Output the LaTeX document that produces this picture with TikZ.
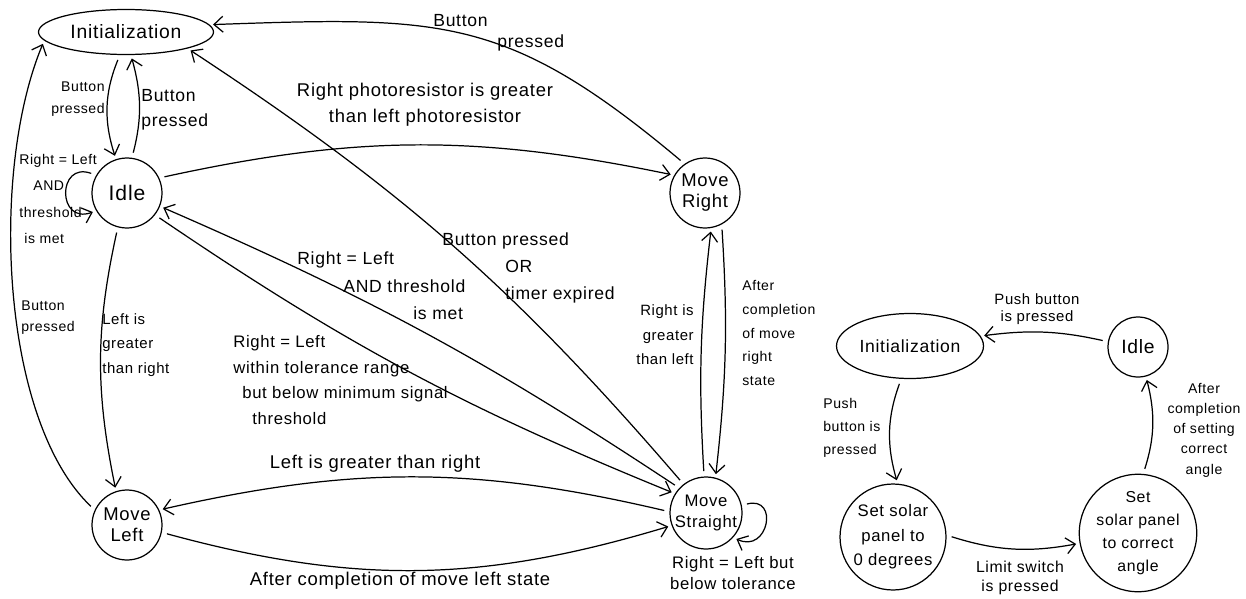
\documentclass[tikz,border=0pt]{standalone}
\usepackage{fontspec}
\setmainfont{Liberation Sans}[LetterSpace=4]
\usepackage{tikz}
\usetikzlibrary{arrows.meta,shapes.geometric}

\tikzset{
  state/.style={circle, draw, line width=0.7pt, inner sep=0pt, align=center,
                font=\fontsize{10.5}{12}\selectfont},
  startst/.style={ellipse, draw, line width=0.7pt, inner sep=0pt,
                  font=\fontsize{11}{13}\selectfont},
  trans/.style={->, line width=0.7pt, shorten <=3pt, shorten >=2pt},
  lbl/.style={inner sep=0pt, align=left, font=\fontsize{10}{14.5}\selectfont},
  lblsm/.style={inner sep=0pt, align=left, font=\fontsize{8}{13}\selectfont}
}

\begin{document}
\begin{tikzpicture}[x=0.02cm, y=-0.02cm,
  >={Straight Barb[length=1.8mm,width=3.2mm]}]
  \useasboundingbox (0,0) rectangle (1246,598);

  % tracker states
  \node[startst, minimum width=3.5cm, minimum height=0.9cm] (init) at (126,32) {Initialization};
  \node[state, minimum size=1.4cm, font=\fontsize{12}{14}\selectfont] (idle) at (127,193) {Idle};
  \node[state, minimum size=1.4cm] (mright) at (705,193) {Move\\Right};
  \node[state, minimum size=1.4cm] (mleft) at (127,525) {Move\\Left};
  \node[state, minimum size=1.44cm, font=\fontsize{9.5}{12}\selectfont] (mstraight) at (706,513) {Move\\Straight};

  % panel states
  \node[startst, minimum width=2.94cm, minimum height=1.3cm, font=\fontsize{10}{12}\selectfont] (init2) at (910,346) {Initialization};
  \node[state, minimum size=1.2cm, font=\fontsize{11}{13}\selectfont] (idle2) at (1138,347) {Idle};
  \node[state, minimum size=2.12cm, font=\fontsize{9.5}{14}\selectfont] (setzero) at (893,537) {Set solar\\panel to\\0 degrees};
  \node[state, minimum size=2.12cm, font=\fontsize{9}{13}\selectfont] (setangle) at (1138,533) {Set\\solar panel\\to correct\\angle};

  % tracker transitions
  \draw[trans] (init.255) to[bend right=20] (idle.108);
  \draw[trans] (idle.82) to[bend right=15] (init.282);
  \draw[trans] (idle.150) to[out=160, in=200, looseness=3] (idle.210);
  \draw[trans] (mleft.155) .. controls (0,420) and (-10,170) .. (init.186);
  \draw[trans] (idle.255) to[bend right=12] (mleft.108);
  \draw[trans] (idle.25) to[bend left=12] (mright.150);
  \draw[trans] (mright.125) to[out=140, in=2, looseness=1.2] (init.5);
  \draw[trans] (mstraight.128) to[bend right=8] (init.-15);
  \draw[trans] (mstraight.137) to[bend right=5] (idle.-22);
  \draw[trans] (idle.-38) to[bend right=6] (mstraight.148);
  \draw[trans] (mstraight.178) to[bend right=13] (mleft.25);
  \draw[trans] (mleft.-12) to[bend right=16] (mstraight.200);
  \draw[trans] (mstraight.93) to[bend left=5] (mright.-80);
  \draw[trans] (mright.-62) to[bend left=5] (mstraight.75);
  \draw[trans] (mstraight.12) to[out=15, in=-25, looseness=3] (mstraight.-42);

  % panel transitions
  \draw[trans] (idle2.170) to[bend right=10] (init2.8);
  \draw[trans] (init2.255) to[bend right=18] (setzero.85);
  \draw[trans] (setzero.2) to[bend right=14] (setangle.190);
  \draw[trans] (setangle.85) to[bend right=16] (idle2.-75);

  % tracker labels
  \node[lblsm, align=right, anchor=east, font=\fontsize{8}{12.5}\selectfont] (lbpa) at (105,99) {Button\\pressed};
  \node[lbl, anchor=west, font=\fontsize{10}{14}\selectfont] (lbpb) at (141,110) {Button\\pressed};
  \node[lblsm, anchor=west, font=\fontsize{8}{15}\selectfont] (lloop) at (19,199) {Right = Left\\\hspace*{0.28cm}AND\\threshold\\\hspace*{0.1cm}is met};
  \node[lblsm, anchor=west, font=\fontsize{8}{12}\selectfont] (lbpc) at (21,318) {Button\\pressed};
  \node[lblsm, anchor=west, font=\fontsize{8.5}{14}\selectfont] (lleft) at (102,345) {Left is\\greater\\than right};
  \node[lbl, align=center, font=\fontsize{10.5}{15}\selectfont] (lphoto) at (425,105) {Right photoresistor is greater\\than left photoresistor};
  \node[lbl, anchor=west, font=\fontsize{10}{12}\selectfont] (lbpd) at (433,33) {Button\\\hspace*{1.28cm}pressed};
  \node[lbl, anchor=west, font=\fontsize{10}{15.3}\selectfont] (ltimer) at (442,268) {Button pressed\\\hspace*{1.26cm}OR\\\hspace*{1.26cm}timer expired};
  \node[lbl, anchor=west, font=\fontsize{10}{15.6}\selectfont] (lmet) at (297,286) {Right = Left\\\hspace*{0.92cm}AND threshold\\\hspace*{2.32cm}is met};
  \node[lbl, anchor=west, font=\fontsize{9.5}{14.5}\selectfont] (ltol) at (233,380) {Right = Left\\within tolerance range\\\hspace*{0.18cm}but below minimum signal\\\hspace*{0.38cm}threshold};
  \node[lbl, font=\fontsize{10.5}{12}\selectfont] (lleftgr) at (375,464) {Left is greater than right};
  \node[lbl, font=\fontsize{10.5}{12}\selectfont] (lafter) at (400,581) {After completion of move left state};
  \node[lblsm, align=right, anchor=east, font=\fontsize{8.5}{14}\selectfont] (lright) at (694,335) {Right is\\greater\\than left};
  \node[lblsm, anchor=west, font=\fontsize{8}{13.5}\selectfont] (lmove) at (742,333) {After\\completion\\of move\\right\\state};
  \node[lbl, align=center, font=\fontsize{9.5}{11.5}\selectfont] (lbelow) at (733,573) {Right = Left but\\below tolerance};

  % panel labels
  \node[lblsm, align=center, font=\fontsize{8.5}{10}\selectfont] (lpusha) at (1037,309) {Push button\\is pressed};
  \node[lblsm, anchor=west, font=\fontsize{8}{13}\selectfont] (lpushb) at (823,428) {Push\\button is\\pressed};
  \node[lbl, align=center, font=\fontsize{9}{11}\selectfont] (llimit) at (1020,578) {Limit switch\\is pressed};
  \node[lblsm, align=center, font=\fontsize{8}{11.5}\selectfont] (lsetting) at (1204,430) {After\\completion\\of setting\\correct\\angle};
\end{tikzpicture}
\end{document}
